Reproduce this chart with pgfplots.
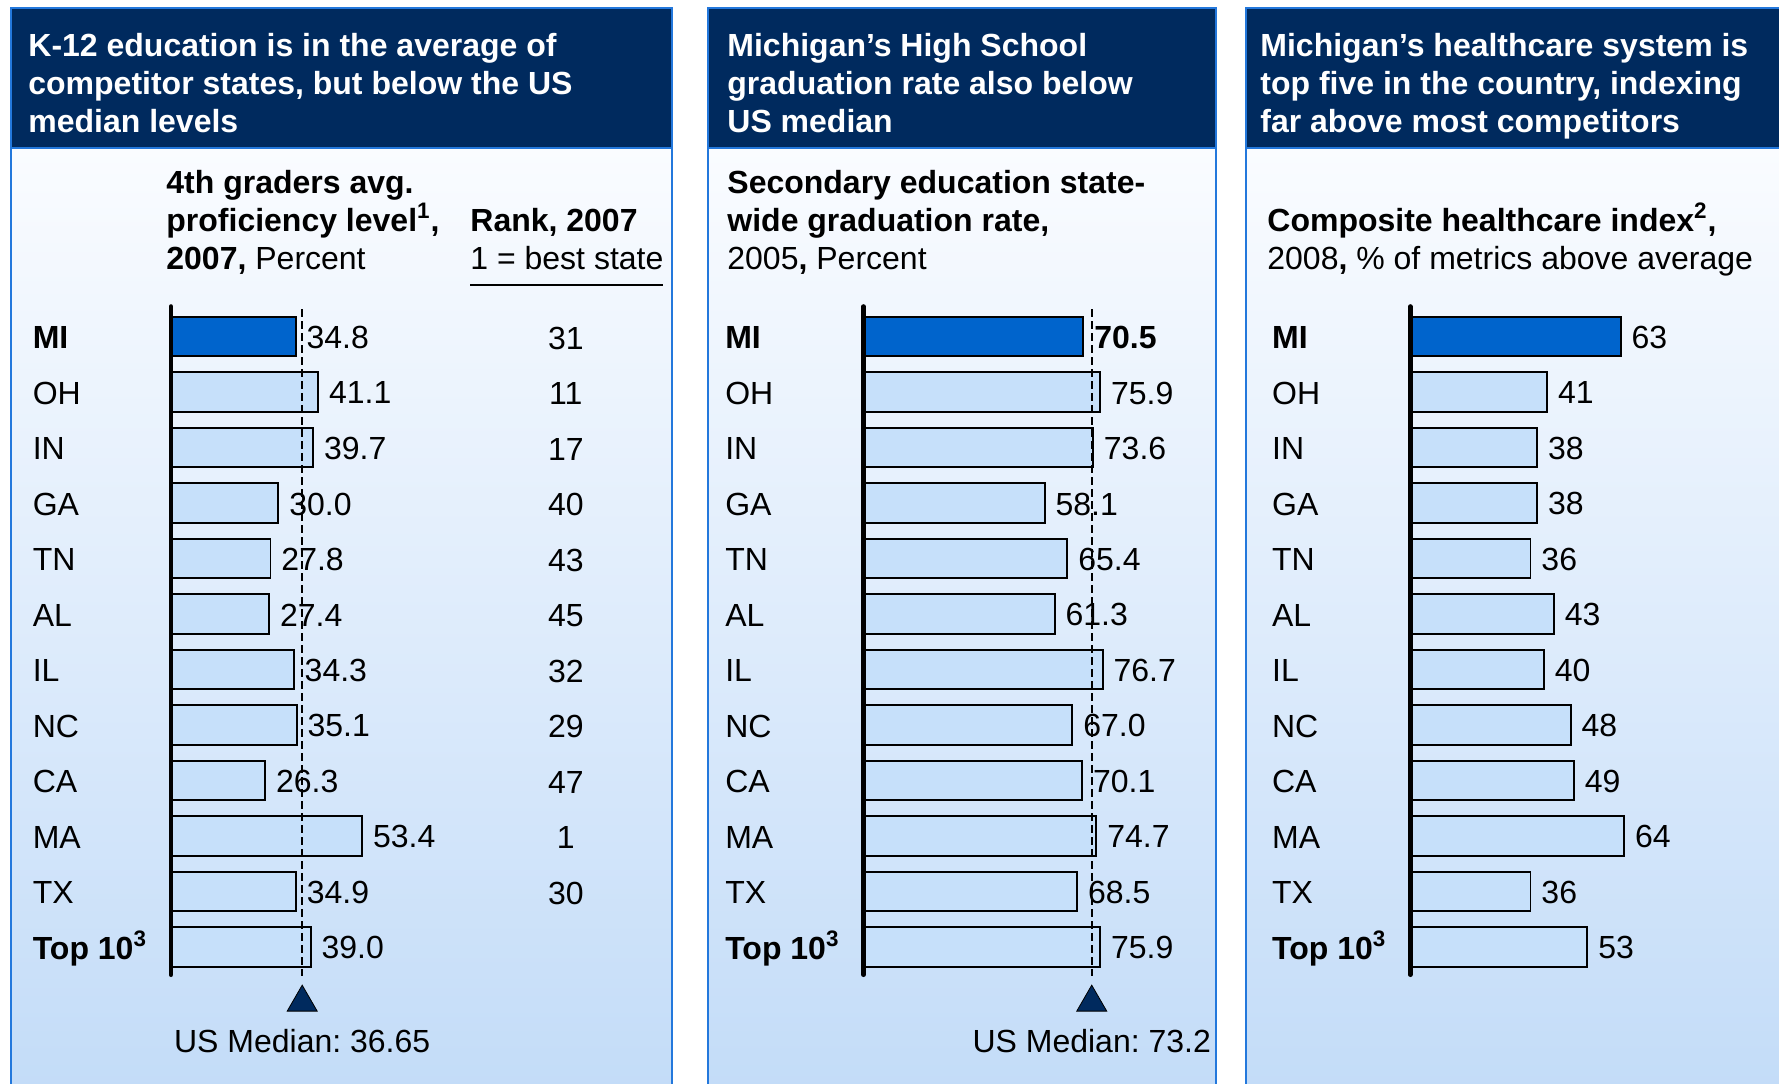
\documentclass[border=0pt]{standalone}
\usepackage{fontspec}
\setmainfont{Liberation Sans}
\usepackage{pgfplots}
\pgfplotsset{compat=1.18}
\frenchspacing
\definecolor{navy}{RGB}{0,42,94}
\definecolor{pborder}{RGB}{35,120,220}
\definecolor{barlight}{RGB}{198,224,250}
\definecolor{barmi}{RGB}{0,100,204}
\definecolor{bgtop}{RGB}{250,252,255}
\definecolor{bgbot}{RGB}{195,220,248}
\newcommand{\F}{\fontsize{16pt}{19pt}\selectfont\frenchspacing}
\tikzset{mline/.style={dash pattern=on 4pt off 2pt, line width=0.9pt}}
\pgfplotsset{
 panel/.style={scale only axis, height=334.1pt, anchor=north west, y dir=reverse,
   ymin=-0.54, ymax=11.5, xmin=0, clip=false, axis line style={draw=none},
   xtick=\empty, ytick={0,...,11},
   yticklabels={\textbf{MI},OH,IN,GA,TN,AL,IL,NC,CA,MA,TX,{\textbf{Top 10\textsuperscript{3}}}},
   major tick length=0pt, tick style={draw=none},
   yticklabel style={anchor=base west, inner sep=0pt, xshift=-69.3pt, yshift=-6.2pt, font=\F},
   font=\F},
 lbar/.style={xbar, bar width=19.6pt, bar shift=0pt, fill=barlight, draw=black, line width=0.95pt,
   nodes near coords={\pgfplotspointmeta}, point meta=explicit symbolic,
   nodes near coords align=horizontal,
   every node near coord/.append style={anchor=west, inner sep=0pt, xshift=5pt, yshift=-0.5pt, font=\F, text=black}},
 mbar/.style={lbar, fill=barmi},
 median/.style={only marks, mark=triangle*, mark size=8.66pt, mark options={fill=navy, draw=none}},
}
\begin{document}
\begin{tikzpicture}
\useasboundingbox (0,0) rectangle (889.5pt,-541.5pt);
\clip (0,0) rectangle (889.5pt,-541.5pt);
\fill[white] (0,0) rectangle (889.5pt,-541.5pt);
\begin{scope}[x=0.5pt,y=-0.5pt]
\foreach \a/\b in {11/672,708/1216,1246/1800}{
  \shade[top color=bgtop, bottom color=bgbot] (\a,148) rectangle (\b,1090);
  \fill[navy] (\a,8) rectangle (\b,148);
  \draw[pborder, line width=1.2pt] (\a,1090) -- (\a,8) -- (\b,8) -- (\b,1090);
  \draw[pborder, line width=1pt] (\a,148) -- (\b,148);
}
\tikzset{hd/.style={anchor=base west, inner sep=0pt, text=white, font=\F\bfseries},
         tx/.style={anchor=base west, inner sep=0pt, text=black, font=\F}}
% headers
\node[hd] at (28,56) {K-12 education is in the average of};
\node[hd] at (28,94) {competitor states, but below the US};
\node[hd] at (28,132) {median levels};
\node[hd] at (727,56) {Michigan’s High School};
\node[hd] at (727,94) {graduation rate also below};
\node[hd] at (727,132) {US median};
\node[hd] at (1260,56) {Michigan’s healthcare system is};
\node[hd] at (1260,94) {top five in the country, indexing};
\node[hd] at (1260,132) {far above most competitors};
% subtitles
\node[tx] at (166,193) {\textbf{4th graders avg.}};
\node[tx] at (166,231) {\textbf{proficiency level\textsuperscript{1},}};
\node[tx] at (166,269) {\textbf{2007,} Percent};
\node[tx] at (470,231) {\textbf{Rank, 2007}};
\node[tx] at (470,269) {1 = best state};
\draw[line width=1pt] (470,285) -- (663,285);
\node[tx] at (727,193) {\textbf{Secondary education state-}};
\node[tx] at (727,231) {\textbf{wide graduation rate,}};
\node[tx] at (727,269) {2005\textbf{,} Percent};
\node[tx] at (1267,231) {\textbf{Composite healthcare index\textsuperscript{2},}};
\node[tx] at (1267,269) {2008\textbf{,} \% of metrics above average};
\coordinate (o1) at (171,306.5);
\coordinate (o2) at (863.5,306.5);
\coordinate (o3) at (1410.3,306.5);
\end{scope}

% Panel 1
\begin{axis}[panel, at={(o1)}, width=107.4pt, xmax=60]
\addplot[mbar] table[x=v,y=r,meta=l,row sep=\\]{r v l\\ 0 34.8 34.8\\};
\addplot[lbar] table[x=v,y=r,meta=l,row sep=\\]{r v l\\
1 41.1 41.1\\ 2 39.7 39.7\\ 3 30.0 30.0\\ 4 27.8 27.8\\ 5 27.4 27.4\\ 6 34.3 34.3\\
7 35.1 35.1\\ 8 26.3 26.3\\ 9 53.4 53.4\\ 10 34.9 34.9\\ 11 39.0 39.0\\};
\addplot[draw=none, mark=none, nodes near coords={\pgfplotspointmeta}, point meta=explicit symbolic,
  every node near coord/.append style={anchor=center, inner sep=0pt, yshift=-0.8pt, font=\F}]
  table[x=x,y=r,meta=l,row sep=\\]{x r l\\
110.3 0 31\\ 110.3 1 11\\ 110.3 2 17\\ 110.3 3 40\\ 110.3 4 43\\ 110.3 5 45\\
110.3 6 32\\ 110.3 7 29\\ 110.3 8 47\\ 110.3 9 1\\ 110.3 10 30\\};
\draw[mline] (axis cs:36.65,-0.49) -- (axis cs:36.65,11.52);
\addplot[median] coordinates {(36.65,12.0)};
\node[anchor=base, inner sep=0pt, font=\F] at (axis cs:36.65,12.91) {US Median: 36.65};
\draw[line width=2.3pt, line cap=round] (axis cs:0,-0.54) -- (axis cs:0,11.5);
\end{axis}

% Panel 2
\begin{axis}[panel, at={(o2)}, width=140.31pt, xmax=90]
\addplot[mbar, nodes near coords={\textbf{\pgfplotspointmeta}}] table[x=v,y=r,meta=l,row sep=\\]{r v l\\ 0 70.5 70.5\\};
\addplot[lbar] table[x=v,y=r,meta=l,row sep=\\]{r v l\\
1 75.9 75.9\\ 2 73.6 73.6\\ 3 58.1 58.1\\ 4 65.4 65.4\\ 5 61.3 61.3\\ 6 76.7 76.7\\
7 67.0 67.0\\ 8 70.1 70.1\\ 9 74.7 74.7\\ 10 68.5 68.5\\ 11 75.9 75.9\\};
\draw[mline] (axis cs:73.2,-0.49) -- (axis cs:73.2,11.52);
\addplot[median] coordinates {(73.2,12.0)};
\node[anchor=base, inner sep=0pt, font=\F] at (axis cs:73.2,12.91) {US Median: 73.2};
\draw[line width=2.3pt, line cap=round] (axis cs:0,-0.54) -- (axis cs:0,11.5);
\end{axis}

% Panel 3
\begin{axis}[panel, at={(o3)}, width=116.9pt, xmax=70]
\addplot[mbar] table[x=v,y=r,meta=l,row sep=\\]{r v l\\ 0 63 63\\};
\addplot[lbar] table[x=v,y=r,meta=l,row sep=\\]{r v l\\
1 41 41\\ 2 38 38\\ 3 38 38\\ 4 36 36\\ 5 43 43\\ 6 40 40\\
7 48 48\\ 8 49 49\\ 9 64 64\\ 10 36 36\\ 11 53 53\\};
\draw[line width=2.3pt, line cap=round] (axis cs:0,-0.54) -- (axis cs:0,11.5);
\end{axis}
\end{tikzpicture}
\end{document}
